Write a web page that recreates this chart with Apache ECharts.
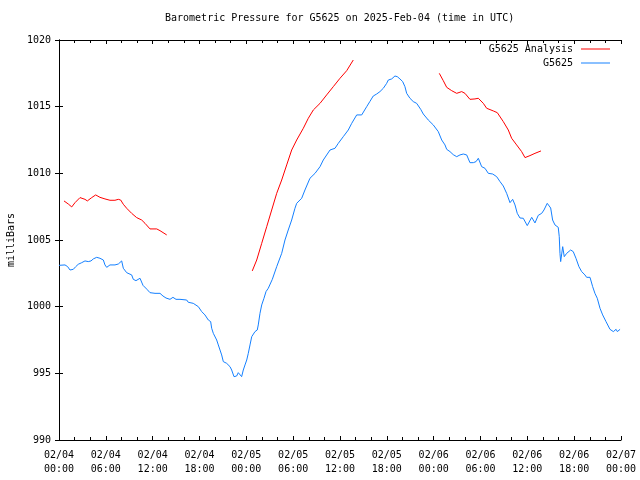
<!DOCTYPE html>
<html>
<head>
<meta charset="utf-8">
<script src="https://cdn.jsdelivr.net/npm/echarts@6/dist/echarts.min.js"></script>
<style>html,body{margin:0;padding:0;background:#fff}#c{width:640px;height:480px}</style>
</head>
<body>
<div id="c"></div>
<script>
// Hours since 2025-02-04 00:00 UTC
const xTickLabels = ["02/04\n00:00","02/04\n06:00","02/04\n12:00","02/04\n18:00","02/05\n00:00","02/05\n06:00","02/05\n12:00","02/05\n18:00","02/06\n00:00","02/06\n06:00","02/06\n12:00","02/06\n18:00","02/07\n00:00"];
const yTicks = [990, 995, 1000, 1005, 1010, 1015, 1020];

const blueHours = [0,0.77,1.11,1.41,1.83,2.14,2.47,2.91,3.33,3.75,4.10,4.39,4.83,5.25,5.68,5.89,6.11,6.53,6.75,7.17,7.60,8.03,8.24,8.67,9.31,9.52,9.86,10.38,10.76,11.27,11.66,12.30,12.94,13.32,13.71,14.22,14.60,14.99,15.50,16.36,16.56,17.20,17.85,18.28,18.70,19.13,19.43,19.56,19.77,20.20,20.41,20.84,21.05,21.48,21.91,22.12,22.42,22.76,22.97,23.19,23.40,23.61,23.83,24.05,24.25,24.47,24.69,25.11,25.40,25.53,25.75,25.97,26.26,26.52,26.81,27.03,27.33,27.89,28.53,28.95,29.37,29.81,30.23,30.45,31.09,31.51,32.15,32.80,33.44,33.86,34.72,35.36,35.78,36.42,37.06,37.50,38.14,38.78,38.98,39.42,39.84,40.26,40.70,41.12,41.55,41.98,42.19,42.62,43.04,43.34,43.68,44.03,44.32,44.54,44.96,45.39,45.82,46.03,46.34,46.67,47.31,47.95,48.59,49.03,49.45,49.67,50.09,50.51,50.95,51.37,51.80,52.23,52.65,53.08,53.43,53.72,54.15,54.57,55.00,55.56,56.07,56.50,56.92,57.35,57.78,58.12,58.42,58.71,59.06,59.48,59.99,60.56,60.98,61.40,61.84,62.13,62.55,62.99,63.24,63.54,63.96,64.09,64.18,64.27,64.53,64.73,65.04,65.25,65.55,65.88,66.23,66.61,66.96,67.38,67.60,68.03,68.37,68.66,68.96,69.31,69.65,70.08,70.59,71.02,71.37,71.53,71.88];
const bluePressure = [1003.1,1003.13,1003.0,1002.75,1002.8,1003.0,1003.18,1003.3,1003.43,1003.38,1003.43,1003.58,1003.7,1003.63,1003.5,1003.13,1002.95,1003.13,1003.0,1003.13,1003.2,1003.43,1002.88,1002.55,1002.38,1002.05,1001.95,1002.13,1001.6,1001.3,1001.05,1001.0,1001.0,1000.8,1000.65,1000.55,1000.7,1000.55,1000.55,1000.5,1000.33,1000.25,1000.0,999.63,999.38,999.0,998.88,998.38,998.0,997.5,997.13,996.38,995.88,995.75,995.5,995.25,994.75,994.8,995.05,994.95,994.75,995.25,995.63,996.0,996.5,997.13,997.75,998.13,998.25,998.63,999.5,1000.13,1000.63,1001.13,1001.38,1001.38,1002.05,1003.0,1004.0,1005.0,1005.75,1006.5,1007.38,1007.75,1008.13,1008.75,1009.63,1010.0,1010.5,1011.0,1011.75,1011.88,1012.25,1012.75,1013.25,1013.75,1014.38,1014.38,1014.5,1015.0,1015.4,1015.8,1015.95,1016.13,1016.38,1016.75,1017.0,1017.08,1017.3,1017.25,1017.08,1016.88,1016.5,1016.0,1015.63,1015.38,1015.25,1015.13,1014.8,1014.45,1014.0,1013.63,1013.13,1012.5,1012.13,1011.8,1011.63,1011.4,1011.25,1011.38,1011.45,1011.38,1010.8,1010.8,1010.88,1011.13,1010.5,1010.38,1010.0,1009.95,1009.75,1009.38,1009.05,1008.5,1007.8,1008.05,1007.63,1007.0,1006.65,1006.63,1006.08,1006.7,1006.28,1006.85,1007.0,1007.25,1007.75,1007.4,1006.5,1006.13,1005.95,1005.25,1004.0,1003.38,1004.5,1003.75,1004.0,1003.95,1004.25,1004.13,1003.63,1003.0,1002.63,1002.38,1002.2,1002.2,1001.5,1001.0,1000.63,999.88,999.38,998.88,998.3,998.13,998.3,998.13,998.3];

// null marks a gap in the analysis series
const redHours = [0.64,1.19,1.63,2.05,2.69,3.33,3.63,4.19,4.70,5.25,5.89,6.53,7.17,7.60,7.90,8.24,8.67,9.31,9.95,10.59,11.02,11.66,12.52,12.94,13.80,
  19.0,
  24.76,25.33,25.97,26.61,27.25,27.89,28.53,29.17,29.81,30.45,31.30,31.94,32.58,33.44,34.29,35.14,36.0,36.86,37.70,
  43.0,
  48.72,49.23,49.67,50.31,50.95,51.59,52.01,52.65,53.29,53.72,54.36,54.79,55.64,56.15,56.92,57.56,57.99,58.63,59.27,59.70,60.34,60.98,61.75];
const redPressure = [1007.93,1007.7,1007.48,1007.8,1008.18,1008.05,1007.93,1008.18,1008.38,1008.2,1008.08,1007.98,1007.98,1008.05,1008.0,1007.68,1007.38,1007.0,1006.68,1006.5,1006.25,1005.83,1005.83,1005.7,1005.38,
  null,
  1002.68,1003.5,1004.75,1006.0,1007.25,1008.5,1009.5,1010.63,1011.75,1012.5,1013.38,1014.13,1014.75,1015.25,1015.88,1016.5,1017.13,1017.7,1018.5,
  null,
  1017.5,1016.95,1016.45,1016.2,1016.0,1016.13,1016.0,1015.55,1015.58,1015.63,1015.25,1014.88,1014.68,1014.55,1013.88,1013.25,1012.63,1012.13,1011.63,1011.18,1011.33,1011.5,1011.68];

const RED = '#ff0000', BLUE = '#1480ff';
const FONT = '"DejaVu Sans Mono", "Liberation Mono", monospace';

const blueData = blueHours.map((h, i) => [h, bluePressure[i]]);
const redData = redHours.map((h, i) => [h, redPressure[i] === null ? '-' : redPressure[i]]);

const chart = echarts.init(document.getElementById('c'), null, {renderer: 'canvas'});
const axisLine = {show: true, lineStyle: {color: '#000', width: 1}};
const tickStyle = {show: true, inside: true, length: 4, lineStyle: {color: '#000', width: 1}};
const legendBase = {right: 30, padding: 0, align: 'right', icon: 'rect', itemWidth: 29, itemHeight: 1, itemGap: 0,
  textStyle: {fontFamily: FONT, fontSize: 10, color: '#000', padding: [0, 3, 0, 0]}};
chart.setOption({
  animation: false,
  backgroundColor: '#fff',
  title: {
    text: 'Barometric Pressure for G5625 on 2025-Feb-04 (time in UTC)',
    left: 165, top: 13, padding: 0,
    textStyle: {fontFamily: FONT, fontSize: 10, fontWeight: 'normal', color: '#000'}
  },
  legend: [
    Object.assign({data: ['G5625 Analysis'], top: 44}, legendBase),
    Object.assign({data: ['G5625'], top: 58}, legendBase)
  ],
  grid: {left: 59, right: 19, top: 40, bottom: 40, containLabel: false, outerBoundsMode: 'none'},
  xAxis: [
    {type: 'value', min: 0, max: 72, interval: 6, position: 'bottom',
     axisLine: axisLine, axisTick: tickStyle,
     minorTick: {show: true, splitNumber: 3, length: 3, lineStyle: {color: '#000', width: 1}},
     splitLine: {show: false},
     axisLabel: {margin: 8, lineHeight: 14, fontFamily: FONT, fontSize: 10, color: '#000',
       formatter: v => xTickLabels[Math.round(v / 6)]}},
    {type: 'value', min: 0, max: 72, interval: 6, position: 'top',
     axisLine: axisLine, axisTick: tickStyle,
     minorTick: {show: true, splitNumber: 3, length: 3, lineStyle: {color: '#000', width: 1}},
     splitLine: {show: false}, axisLabel: {show: false}}
  ],
  yAxis: [
    {type: 'value', min: yTicks[0], max: yTicks[yTicks.length - 1], interval: 5, position: 'left',
     name: 'milliBars', nameLocation: 'middle', nameRotate: 90, nameGap: 42,
     nameTextStyle: {fontFamily: FONT, fontSize: 10, color: '#000'},
     axisLine: axisLine, axisTick: tickStyle, splitLine: {show: false},
     axisLabel: {margin: 8, fontFamily: FONT, fontSize: 10, color: '#000', formatter: v => String(v)}},
    {type: 'value', min: yTicks[0], max: yTicks[yTicks.length - 1], interval: 5, position: 'right',
     axisLine: axisLine, axisTick: tickStyle, splitLine: {show: false}, axisLabel: {show: false}}
  ],
  series: [
    {name: 'G5625 Analysis', type: 'line', data: redData, symbol: 'none', showSymbol: false,
     connectNulls: false, lineStyle: {color: RED, width: 1}, itemStyle: {color: RED}},
    {name: 'G5625', type: 'line', data: blueData, symbol: 'none', showSymbol: false,
     lineStyle: {color: BLUE, width: 1}, itemStyle: {color: BLUE}}
  ]
});
</script>
</body>
</html>
